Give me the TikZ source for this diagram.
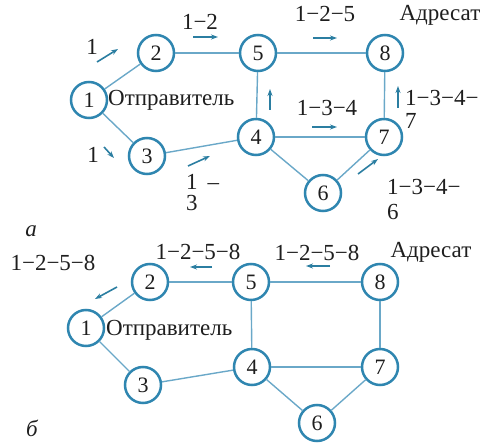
\documentclass[tikz,border=0pt]{standalone}
\usepackage{fontspec}
\IfFontExistsTF{LiberationSerif-Regular.ttf}
  {\newfontfamily\netserif{LiberationSerif-Regular.ttf}[ItalicFont=LiberationSerif-Italic.ttf]}
  {\newfontfamily\netserif{DejaVu Serif}}
\usetikzlibrary{arrows.meta}
\definecolor{ringblue}{HTML}{2F86B0}
\definecolor{edgeblue}{HTML}{6AA8C8}
\definecolor{flowblue}{HTML}{2B7EA1}
\definecolor{inkgray}{HTML}{1E1E1E}
\tikzset{
  netnode/.style={circle,draw=ringblue,line width=2.5pt,fill=white,minimum size=36pt,inner sep=0pt,
    text=inkgray,font=\netserif\fontsize{22}{24}\selectfont},
  link/.style={draw=edgeblue,line width=1.4pt},
  flow/.style={draw=flowblue,line width=1.6pt,-{Stealth[length=7pt,width=5pt]}},
  lbl/.style={text=inkgray,inner sep=0pt,font=\netserif\fontsize{23}{25}\selectfont},
  lblw/.style={lbl,anchor=west},
  tag/.style={lbl,font=\netserif\fontsize{23}{25}\selectfont\itshape}
}
\begin{document}
\begin{tikzpicture}[x=1pt,y=-1pt]
\useasboundingbox (0,0) rectangle (493,446);

% ---------- (а) forward flooding ----------
\node[netnode] (a1) at (89,100) {1};
\node[netnode] (a2) at (156,53) {2};
\node[netnode] (a3) at (147,156) {3};
\node[netnode] (a5) at (258,53) {5};
\node[netnode] (a8) at (385,53) {8};
\node[netnode] (a4) at (256,137) {4};
\node[netnode] (a7) at (384,137) {7};
\node[netnode] (a6) at (323,193) {6};
\foreach \u/\v in {a1/a2,a1/a3,a2/a5,a3/a4,a5/a8,a5/a4,a4/a7,a8/a7,a4/a6,a6/a7}
  \path[link] (\u) -- (\v);

\node[lblw] (sendA) at (108,100) {Отправитель};
\node[lbl] (destA) at (440,15) {Адресат};
\node[lbl] (pa12) at (92,47) {1};
\node[lbl] (pa13) at (93,155) {1};
\node[lbl] (pa25) at (200,22) {1−2};
\node[lbl] (pa58) at (325,14) {1−2−5};
\node[lbl] (pa47) at (327,108) {1−3−4};
\node[lblw] (pa34) at (186,182) {1\hspace{10pt}–};
\node[lblw] (pa34b) at (186,203) {3};
\node[lblw] (pa78) at (405,98) {1−3−4−};
\node[lblw] (pa78b) at (405,121) {7};
\node[lblw] (pa67) at (387,187) {1−3−4−};
\node[lblw] (pa67b) at (387,212) {6};
\node[tag] (capA) at (31,231) {а};

\draw[flow] (97,62) -- (118,49);
\draw[flow] (104,147) -- (114,158);
\draw[flow] (193,37) -- (218,37);
\draw[flow] (188,166) -- (210,156);
\draw[flow] (313,38) -- (337,38);
\draw[flow] (270,110) -- (270,89);
\draw[flow] (312,127) -- (337,127);
\draw[flow] (398,108) -- (398,86);
\draw[flow] (358,174) -- (378,159);

% ---------- (б) return path ----------
\node[netnode] (b1) at (86,328) {1};
\node[netnode] (b2) at (150,282) {2};
\node[netnode] (b3) at (143,385) {3};
\node[netnode] (b5) at (251,282) {5};
\node[netnode] (b8) at (380,282) {8};
\node[netnode] (b4) at (252,367) {4};
\node[netnode] (b7) at (380,367) {7};
\node[netnode] (b6) at (317,423) {6};
\foreach \u/\v in {b1/b2,b1/b3,b2/b5,b3/b4,b5/b8,b5/b4,b4/b7,b8/b7,b4/b6,b6/b7}
  \path[link] (\u) -- (\v);

\node[lblw] (sendB) at (106,330) {Отправитель};
\node[lbl] (destB) at (431,252) {Адресат};
\node[lbl] (pb21) at (53,263) {1−2−5−8};
\node[lbl] (pb52) at (198,252) {1−2−5−8};
\node[lbl] (pb85) at (317,253) {1−2−5−8};
\node[tag] (capB) at (32,428) {б};

\draw[flow] (117,287) -- (95,299);
\draw[flow] (212,267) -- (190,267);
\draw[flow] (330,266) -- (306,266);
\end{tikzpicture}
\end{document}
